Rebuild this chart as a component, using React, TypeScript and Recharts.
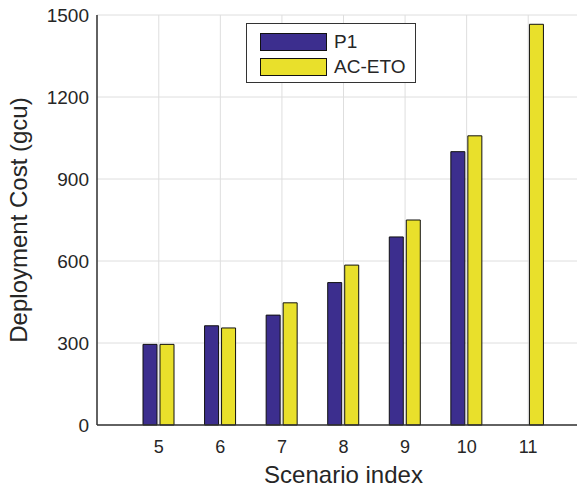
import React from "react";
import {
  BarChart,
  Bar,
  XAxis,
  YAxis,
  CartesianGrid,
  Legend,
  Label,
} from "recharts";

const scenarios = ["5", "6", "7", "8", "9", "10", "11"];
const p1Cost = [295, 363, 402, 521, 688, 1000, null];
const acEtoCost = [295, 355, 447, 585, 750, 1058, 1466];
const costTicks = [0, 300, 600, 900, 1200, 1500];
const seriesNames = ["P1", "AC-ETO"];

const data = scenarios.map((s, i) => ({
  name: s,
  p1: p1Cost[i],
  acEto: acEtoCost[i],
}));

const FONT = "'Liberation Sans', Arial, Helvetica, sans-serif";
const TEXT = "#262626";
const AXIS = "#333";

const renderLegend = (props: any) => {
  const payload = [...(props.payload || [])].sort(
    (a: any, b: any) => seriesNames.indexOf(a.value) - seriesNames.indexOf(b.value)
  );
  return (
    <div
      style={{
        position: "relative",
        width: 168,
        height: 58,
        border: `1.5px solid ${AXIS}`,
        background: "#fff",
        fontFamily: FONT,
      }}
    >
      {payload.map((entry: any, i: number) => (
        <div
          key={entry.value}
          style={{
            position: "absolute",
            left: 13,
            top: 9 + i * 25,
            display: "flex",
            alignItems: "center",
            height: 18,
          }}
        >
          <div
            style={{
              width: 65,
              height: 16,
              background: entry.color,
              border: "1px solid #111",
            }}
          />
          <span style={{ marginLeft: 7, fontSize: 19, color: TEXT }}>
            {entry.value}
          </span>
        </div>
      ))}
    </div>
  );
};

const YLabel = (props: any) => {
  const { viewBox } = props;
  const cx = viewBox.x + 21;
  const cy = viewBox.y + viewBox.height / 2;
  return (
    <text
      x={cx}
      y={cy}
      transform={`rotate(-90, ${cx}, ${cy})`}
      textAnchor="middle"
      dominantBaseline="middle"
      fill={TEXT}
      style={{ fontSize: 24, fontFamily: FONT }}
    >
      Deployment Cost (gcu)
    </text>
  );
};

const XLabel = (props: any) => {
  const { viewBox } = props;
  return (
    <text
      x={viewBox.x + viewBox.width / 2}
      y={viewBox.y + 58}
      textAnchor="middle"
      fill={TEXT}
      style={{ fontSize: 24, fontFamily: FONT }}
    >
      Scenario index
    </text>
  );
};

const noTick = () => <g />;

export const App = () => {
  return (
    <div style={{ margin: -8, width: 585, height: 493, overflow: "hidden", background: "#fff" }}>
      <BarChart
        width={600}
        height={493}
        data={data}
        margin={{ top: 15, right: 10, left: 0, bottom: 0 }}
        barSize={14}
        barGap={3}
        style={{ fontFamily: FONT }}
      >
        <CartesianGrid stroke="#dedede" strokeWidth={1} />
        <XAxis
          dataKey="name"
          height={68}
          padding={{ left: 31, right: 31 }}
          tickSize={0}
          tickMargin={15}
          axisLine={{ stroke: AXIS, strokeWidth: 1.5 }}
          tick={{ fill: TEXT, fontSize: 18, fontFamily: FONT }}
        >
          <Label content={<XLabel />} />
        </XAxis>
        <XAxis
          xAxisId="top"
          dataKey="name"
          orientation="top"
          mirror
          height={0}
          padding={{ left: 31, right: 31 }}
          tickSize={5}
          tick={noTick}
          axisLine={{ stroke: AXIS, strokeWidth: 1.5 }}
          tickLine={{ stroke: AXIS }}
        />
        <YAxis
          width={97}
          domain={[0, 1500]}
          ticks={costTicks}
          tickSize={0}
          tickMargin={8}
          axisLine={{ stroke: AXIS, strokeWidth: 1.5 }}
          tick={{ fill: TEXT, fontSize: 19, fontFamily: FONT }}
        >
          <Label content={<YLabel />} />
        </YAxis>
        <YAxis
          yAxisId="inner"
          mirror
          width={0}
          domain={[0, 1500]}
          ticks={costTicks}
          tickSize={5}
          tick={noTick}
          axisLine={false}
          tickLine={{ stroke: AXIS }}
        />
        <Legend
          layout="horizontal"
          verticalAlign="middle"
          align="center"
          content={renderLegend}
          wrapperStyle={{ position: "absolute", left: 246, top: 23, width: 170, height: 60 }}
        />
        <Bar
          dataKey="p1"
          name="P1"
          fill="#3C2E8E"
          stroke="#111"
          strokeWidth={1}
          isAnimationActive={false}
        />
        <Bar
          dataKey="acEto"
          name="AC-ETO"
          fill="#E9E02B"
          stroke="#111"
          strokeWidth={1}
          isAnimationActive={false}
        />
      </BarChart>
    </div>
  );
};

export default App;
